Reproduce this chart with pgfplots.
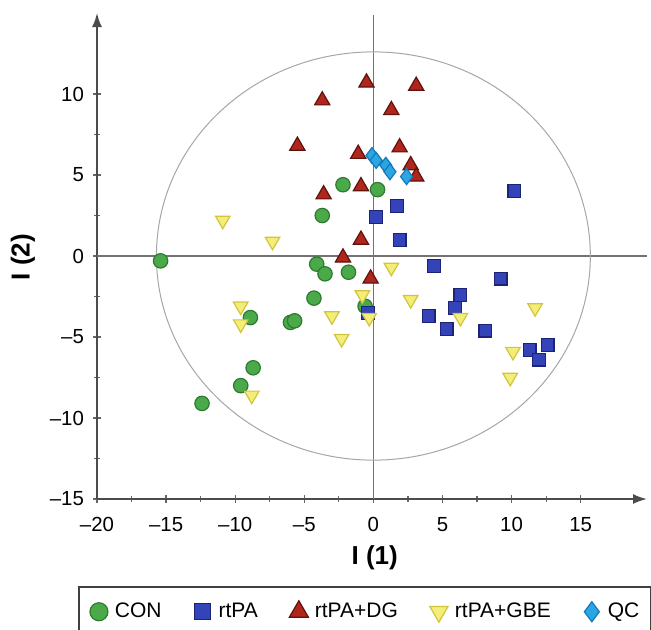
\documentclass[border=0pt]{standalone}
\usepackage{fontspec}
\setmainfont{Liberation Sans}
\usepackage{pgfplots}
\pgfplotsset{compat=1.18}
\usetikzlibrary{arrows.meta}

\definecolor{congreen}{HTML}{4AAA4A}
\definecolor{congreenedge}{HTML}{2F7A30}
\definecolor{rtpablue}{HTML}{3443B8}
\definecolor{rtpaedge}{HTML}{1C2478}
\definecolor{dgred}{HTML}{B0261C}
\definecolor{dgedge}{HTML}{5E120C}
\definecolor{gbeyellow}{HTML}{F3EE78}
\definecolor{gbeedge}{HTML}{D2C43E}
\definecolor{qcblue}{HTML}{2AA6E2}
\definecolor{qcedge}{HTML}{1679BA}

\begin{document}
\begin{tikzpicture}
\begin{axis}[
    name=ax,
    scale only axis,
    width=275pt, height=243pt,
    xmin=-20, xmax=19.8, ymin=-15, ymax=15,
    axis lines=left,
    axis line style={draw=black!70, line width=0.9pt, -{Latex[length=7pt,width=5pt]}},
    xtick={-20,-15,...,15},
    xticklabels={--20,--15,--10,--5,0,5,10,15},
    ytick={-15,-10,...,10},
    yticklabels={--15,--10,--5,0,5,10},
    minor tick num=1,
    tick align=center,
    major tick length=4pt, minor tick length=3pt,
    tick style={black!60, line width=0.6pt},
    ticklabel style={font=\fontsize{10.2}{12}\selectfont},
    xticklabel style={yshift=-3.5pt},
    yticklabel style={xshift=-1pt},
    xlabel={\textbf{I (1)}}, ylabel={\textbf{I (2)}},
    label style={font=\fontsize{13}{15}\selectfont},
    xlabel style={at={(axis description cs:0.505,-0.121)}, anchor=center},
    ylabel style={at={(axis description cs:-0.1345,0.498)}, anchor=center},
    clip=false,
    legend columns=5,
    legend cell align=left,
    legend image code/.code={%
        \path[draw=none] (0pt,0pt) -- (12pt,0pt);
        \draw[#1,/tikz/every mark/.append style={scale=1.25}] plot coordinates {(6pt,0pt)};},
    legend style={at={(axis description cs:-0.0345,-0.179)}, anchor=north west,
        draw=black!75, line width=0.9pt, inner xsep=4pt, inner ysep=6pt,
        font=\fontsize{10.5}{13}\selectfont,
        /tikz/every even column/.append style={column sep=12.5pt}},
]
% zero lines and confidence ellipse
\draw[black!55, line width=0.75pt] (axis cs:0,-15) -- (axis cs:0,14.9);
\draw[black!55, line width=0.75pt] (axis cs:-20,0) -- (axis cs:19.8,0);
\draw[black!35, line width=0.5pt] (axis cs:0,0) ellipse [x radius=15.7, y radius=12.6];

\addplot[only marks, mark=*, mark size=3.6pt,
    mark options={fill=congreen, draw=congreenedge, line width=0.6pt}] coordinates {
    (-15.4,-0.3) (-2.2,4.4) (0.3,4.1) (-3.7,2.5) (-4.1,-0.5) (-3.5,-1.1)
    (-1.8,-1.0) (-4.3,-2.6) (-8.9,-3.8) (-6.0,-4.1) (-5.7,-4.0) (-0.6,-3.1)
    (-8.7,-6.9) (-9.6,-8.0) (-12.4,-9.1)
};
\addlegendentry{CON}
\addplot[only marks, mark=square*, mark size=3.2pt,
    mark options={fill=rtpablue, draw=rtpaedge, line width=0.6pt}] coordinates {
    (0.2,2.4) (1.7,3.1) (1.9,1.0) (10.2,4.0) (4.4,-0.6) (9.2,-1.4)
    (6.3,-2.4) (5.9,-3.2) (4.0,-3.7) (5.3,-4.5) (8.1,-4.6) (11.3,-5.8)
    (12.6,-5.5) (12.0,-6.4) (-0.4,-3.5)
};
\addlegendentry{rtPA}
\addplot[only marks, mark=triangle*, mark size=4.4pt,
    mark options={fill=dgred, draw=dgedge, line width=0.6pt}] coordinates {
    (-0.5,10.7) (3.1,10.5) (1.3,9.0) (-3.7,9.6) (-5.5,6.8) (1.9,6.7)
    (-1.1,6.3) (2.7,5.6) (3.1,4.9) (-0.9,4.3) (-3.6,3.8) (-0.9,1.0)
    (-2.2,-0.1) (-0.2,-1.4)
};
\addlegendentry{rtPA+DG}
\addplot[only marks, mark=triangle*, mark size=4.2pt,
    mark options={rotate=180, fill=gbeyellow, draw=gbeedge, line width=0.6pt}] coordinates {
    (-10.9,2.2) (-7.3,0.9) (1.3,-0.7) (2.7,-2.7) (6.3,-3.8) (11.7,-3.2)
    (10.1,-5.9) (9.9,-7.5) (-0.8,-2.4) (-0.3,-3.8) (-3.0,-3.7) (-2.3,-5.1)
    (-9.6,-3.1) (-9.6,-4.2) (-8.8,-8.6)
};
\addlegendentry{rtPA+GBE}
\addplot[only marks, mark=diamond*, mark size=4pt,
    mark options={fill=qcblue, draw=qcedge, line width=0.6pt}] coordinates {
    (-0.1,6.2) (0.2,5.9) (0.9,5.6) (1.2,5.2) (2.4,4.9)
};
\addlegendentry{QC}
\end{axis}
\pgfresetboundingbox
\path ([xshift=-48.5pt,yshift=-65pt]ax.south west) rectangle ([xshift=277pt,yshift=249.5pt]ax.south west);
\end{tikzpicture}
\end{document}
